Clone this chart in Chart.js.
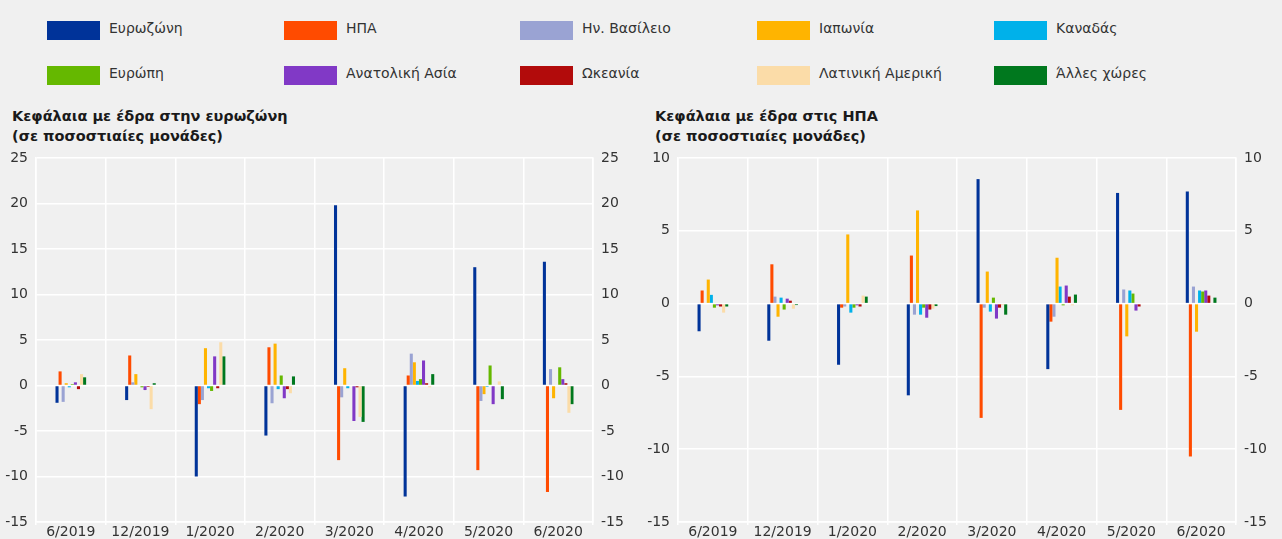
<!DOCTYPE html>
<html>
<head>
<meta charset="utf-8">
<script src="https://cdn.jsdelivr.net/npm/chart.js@4.4.1/dist/chart.umd.min.js"></script>
<style>
  body { margin: 0; background: #f0f0f0; width: 1282px; height: 539px; overflow: hidden; position: relative; font-family: 'DejaVu Sans', sans-serif; }
  #legend { position: absolute; left: 0; top: 0; width: 1282px; height: 95px; }
  .item { position: absolute; display: flex; align-items: center; font-size: 14px; color: #333; }
  .item .txt { position: relative; top: -3px; }
  .sw { width: 53px; height: 19px; margin-right: 9px; }
  .box { position: absolute; top: 95px; height: 444px; }
  .title { position: absolute; top: 106px; font-size: 14.5px; font-weight: bold; color: #1a1a1a; line-height: 20px; }
</style>
</head>
<body>
<div id="legend"></div>
<div class="title" style="left:12px">Κεφάλαια με έδρα στην ευρωζώνη<br>(σε ποσοστιαίες μονάδες)</div>
<div class="title" style="left:655px">Κεφάλαια με έδρα στις ΗΠΑ<br>(σε ποσοστιαίες μονάδες)</div>
<div class="box" style="left:0;width:640px"><canvas id="chartEz"></canvas></div>
<div class="box" style="left:640px;width:642px"><canvas id="chartUs"></canvas></div>
<script>
const categories = ['6/2019', '12/2019', '1/2020', '2/2020', '3/2020', '4/2020', '5/2020', '6/2020'];
const regions = ['Ευρωζώνη', 'ΗΠΑ', 'Ην. Βασίλειο', 'Ιαπωνία', 'Καναδάς',
                 'Ευρώπη', 'Ανατολική Ασία', 'Ωκεανία', 'Λατινική Αμερική', 'Άλλες χώρες'];
const colors = ['#003399', '#ff4b00', '#9aa3d3', '#ffb400', '#00b1ea',
                '#65b800', '#8139c6', '#b20b0b', '#fbdca8', '#00781e'];

// Κεφάλαια με έδρα στην ευρωζώνη
const ezEuroArea = [-1.9, -1.6, -10.0, -5.5, 19.8, -12.2, 13.0, 13.6];
const ezUS       = [1.55, 3.3, -2.05, 4.2, -8.2, 1.1, -9.3, -11.7];
const ezUK       = [-1.8, 0.35, -1.6, -1.95, -1.3, 3.5, -1.7, 1.8];
const ezJapan    = [0.25, 1.25, 4.1, 4.6, 1.9, 2.55, -0.95, -1.4];
const ezCanada   = [-0.2, 0.0, -0.3, -0.4, -0.3, 0.5, -0.15, 0.0];
const ezEurope   = [0.15, -0.2, -0.6, 1.1, 0.0, 0.7, 2.2, 2.0];
const ezEastAsia = [0.35, -0.5, 3.2, -1.4, -3.9, 2.75, -2.05, 0.7];
const ezOceania  = [-0.4, -0.15, -0.3, -0.4, -0.2, 0.25, 0.0, 0.25];
const ezLatAm    = [1.25, -2.6, 4.75, -0.85, -3.45, -0.2, 0.45, -3.0];
const ezOther    = [0.9, 0.25, 3.2, 1.0, -4.0, 1.25, -1.5, -2.05];

// Κεφάλαια με έδρα στις ΗΠΑ
const usEuroArea = [-1.9, -2.55, -4.2, -6.3, 8.55, -4.5, 7.6, 7.7];
const usUS       = [0.9, 2.7, -0.28, 3.3, -7.85, -1.24, -7.3, -10.5];
const usUK       = [0.05, 0.48, -0.2, -0.76, -0.28, -0.9, 0.97, 1.17];
const usJapan    = [1.65, -0.9, 4.75, 6.4, 2.2, 3.15, -2.25, -1.93];
const usCanada   = [0.6, 0.41, -0.62, -0.76, -0.55, 1.17, 0.9, 0.9];
const usEurope   = [-0.28, -0.41, -0.28, -0.28, 0.41, -0.12, 0.69, 0.83];
const usEastAsia = [-0.12, 0.34, -0.12, -0.97, -1.03, 1.24, -0.48, 0.9];
const usOceania  = [-0.2, 0.2, -0.2, -0.41, -0.28, 0.48, -0.2, 0.55];
const usLatAm    = [-0.62, -0.35, 0.55, -0.35, -0.1, -0.12, 0.0, 0.0];
const usOther    = [-0.2, -0.1, 0.48, -0.17, -0.76, 0.62, 0.0, 0.41];

const ezSeries = [ezEuroArea, ezUS, ezUK, ezJapan, ezCanada, ezEurope, ezEastAsia, ezOceania, ezLatAm, ezOther];
const usSeries = [usEuroArea, usUS, usUK, usJapan, usCanada, usEurope, usEastAsia, usOceania, usLatAm, usOther];

const ezTicks = { min: -15, max: 25, step: 5 };
const usTicks = { min: -15, max: 10, step: 5 };

// legend (shared by both charts)
const legendEl = document.getElementById('legend');
const colX = [47, 284, 520, 757, 994];
const rowY = [21, 66];
regions.forEach((name, i) => {
    const d = document.createElement('div');
    d.className = 'item';
    d.style.left = colX[i % 5] + 'px';
    d.style.top = rowY[Math.floor(i / 5)] + 'px';
    d.innerHTML = '<span class="sw" style="background:' + colors[i] + '"></span><span class="txt">' + name + '</span>';
    legendEl.appendChild(d);
});

const font = { family: "'DejaVu Sans', sans-serif", size: 14 };

function makeChart(id, series, yr, leftW, rightW) {
    return new Chart(document.getElementById(id), {
        type: 'bar',
        data: {
            labels: categories,
            datasets: series.map((vals, i) => ({
                label: regions[i],
                data: vals,
                backgroundColor: colors[i],
                borderWidth: 0,
                categoryPercentage: 0.44,
                barPercentage: 1.0
            }))
        },
        options: {
            responsive: true,
            maintainAspectRatio: false,
            animation: false,
            layout: { padding: { left: 0, right: 0, top: 63, bottom: 0 } },
            plugins: {
                legend: { display: false },
                tooltip: { enabled: false },
                title: { display: false }
            },
            scales: {
                x: {
                    grid: { color: '#ffffff', lineWidth: 1.5, tickLength: 3, offset: true },
                    border: { color: '#ffffff', width: 1.5 },
                    ticks: { color: '#333', font: font, padding: -1, maxRotation: 0 },
                    afterFit: s => { s.height = 17; }
                },
                y: {
                    min: yr.min, max: yr.max,
                    grid: { color: '#ffffff', lineWidth: 1.5, drawTicks: false },
                    border: { color: '#ffffff', width: 1.5 },
                    ticks: { stepSize: yr.step, color: '#333', font: font, padding: 8 },
                    afterFit: s => { s.width = leftW; }
                },
                y2: {
                    position: 'right',
                    min: yr.min, max: yr.max,
                    grid: { display: false, drawTicks: false },
                    border: { color: '#ffffff', width: 1.5 },
                    ticks: { stepSize: yr.step, color: '#333', font: font, padding: 8 },
                    afterFit: s => { s.width = rightW; }
                }
            }
        }
    });
}

makeChart('chartEz', ezSeries, ezTicks, 36, 47);
makeChart('chartUs', usSeries, usTicks, 38, 46);
</script>
</body>
</html>
